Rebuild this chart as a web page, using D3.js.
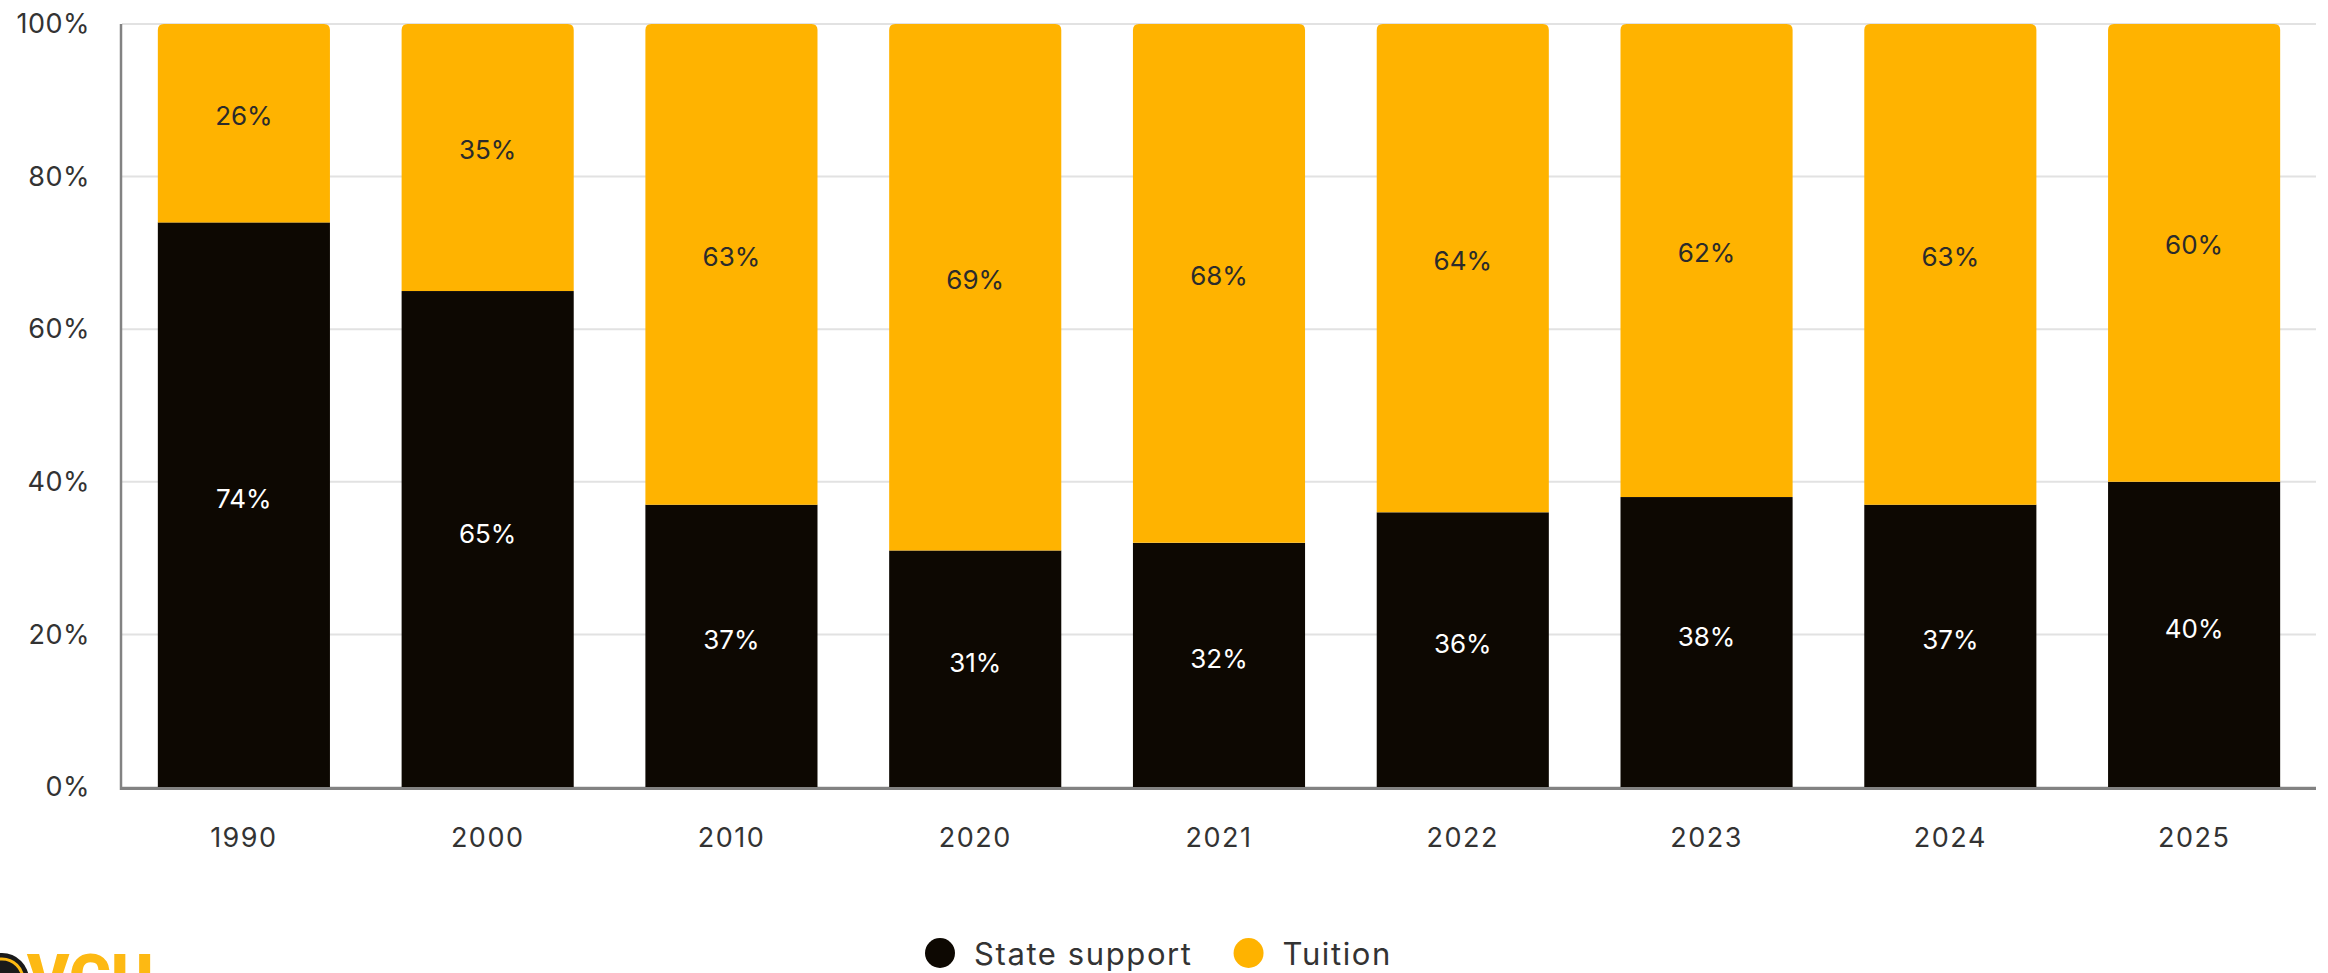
<!DOCTYPE html>
<html>
<head>
<meta charset="utf-8">
<script src="https://cdn.jsdelivr.net/npm/d3@7"></script>
<style>
  body { margin: 0; background: #fff; overflow: hidden; }
  text { font-family: "Inter", "Noto Sans", sans-serif; }
</style>
</head>
<body>
<div id="chart"></div>
<script>
var years = ["1990", "2000", "2010", "2020", "2021", "2022", "2023", "2024", "2025"];
var stateSupport = [74, 65, 37, 31, 32, 36, 38, 37, 40];
var tuition = [26, 35, 63, 69, 68, 64, 62, 63, 60];
var yTicks = [0, 20, 40, 60, 80, 100];
var seriesNames = ["State support", "Tuition"];
var colors = ["#0d0802", "#ffb300"];

var width = 2328, height = 973;
var margin = { top: 24, right: 12, bottom: 186, left: 122 };

var svg = d3.select("#chart")
  .append("svg")
  .attr("width", width)
  .attr("height", height);

var xScale = d3.scaleBand()
  .domain(years)
  .range([margin.left, width - margin.right])
  .paddingInner(0.294)
  .paddingOuter(0.147);

var yScale = d3.scaleLinear()
  .domain([0, 100])
  .range([height - margin.bottom, margin.top]);

// gridlines
svg.append("g")
  .selectAll("line")
  .data(yTicks)
  .enter()
  .append("line")
  .attr("x1", margin.left)
  .attr("x2", width - margin.right)
  .attr("y1", function(d) { return yScale(d); })
  .attr("y2", function(d) { return yScale(d); })
  .attr("stroke", "#e2e2e2")
  .attr("stroke-width", 2);

// y axis labels
var yAxis = d3.axisLeft(yScale)
  .tickValues(yTicks)
  .tickFormat(function(d) { return d + "%"; })
  .tickSize(0)
  .tickPadding(32);

var yG = svg.append("g")
  .attr("transform", "translate(" + margin.left + ",0)")
  .call(yAxis);
yG.select(".domain").remove();
yG.selectAll("text")
  .style("font-size", "27px")
  .style("letter-spacing", "0.5px")
  .attr("fill", "#333");

// state support bars
svg.append("g")
  .selectAll("rect")
  .data(years)
  .enter()
  .append("rect")
  .attr("x", function(d) { return xScale(d); })
  .attr("width", xScale.bandwidth())
  .attr("y", function(d, i) { return yScale(stateSupport[i]); })
  .attr("height", function(d, i) { return yScale(0) - yScale(stateSupport[i]); })
  .attr("fill", colors[0]);

// tuition bars, rounded top corners
function topRounded(x, y, w, h, r) {
  return "M" + x + "," + (y + h) +
    "V" + (y + r) +
    "Q" + x + "," + y + " " + (x + r) + "," + y +
    "H" + (x + w - r) +
    "Q" + (x + w) + "," + y + " " + (x + w) + "," + (y + r) +
    "V" + (y + h) + "Z";
}

svg.append("g")
  .selectAll("path")
  .data(years)
  .enter()
  .append("path")
  .attr("d", function(d, i) {
    var top = yScale(stateSupport[i] + tuition[i]);
    var bottom = yScale(stateSupport[i]);
    return topRounded(xScale(d), top, xScale.bandwidth(), bottom - top, 6);
  })
  .attr("fill", colors[1]);

// value labels
var bw = xScale.bandwidth();
svg.append("g")
  .selectAll("text")
  .data(years)
  .enter()
  .append("text")
  .attr("x", function(d) { return xScale(d) + bw / 2; })
  .attr("y", function(d, i) { return (yScale(0) + yScale(stateSupport[i])) / 2 - 6; })
  .attr("text-anchor", "middle")
  .attr("dominant-baseline", "central")
  .style("font-size", "26px")
  .attr("fill", "#ffffff")
  .text(function(d, i) { return stateSupport[i] + "%"; });

svg.append("g")
  .selectAll("text")
  .data(years)
  .enter()
  .append("text")
  .attr("x", function(d) { return xScale(d) + bw / 2; })
  .attr("y", function(d, i) {
    return (yScale(stateSupport[i]) + yScale(stateSupport[i] + tuition[i])) / 2 - 8;
  })
  .attr("text-anchor", "middle")
  .attr("dominant-baseline", "central")
  .style("font-size", "26px")
  .attr("fill", "#2b2b2b")
  .text(function(d, i) { return tuition[i] + "%"; });

// x axis
var xAxis = d3.axisBottom(xScale).tickSize(0).tickPadding(41);
var xG = svg.append("g")
  .attr("transform", "translate(0," + (height - margin.bottom) + ")")
  .call(xAxis);
xG.select(".domain").remove();
xG.selectAll("text")
  .style("font-size", "27px")
  .style("letter-spacing", "1.5px")
  .attr("fill", "#333");

// axis lines
svg.append("line")
  .attr("x1", margin.left - 1)
  .attr("x2", width - margin.right)
  .attr("y1", yScale(0) + 1.5)
  .attr("y2", yScale(0) + 1.5)
  .attr("stroke", "#828282")
  .attr("stroke-width", 3);

svg.append("line")
  .attr("x1", margin.left - 1)
  .attr("x2", margin.left - 1)
  .attr("y1", yScale(100))
  .attr("y2", yScale(0) + 3)
  .attr("stroke", "#828282")
  .attr("stroke-width", 2.5);

// legend
var legend = svg.append("g").attr("transform", "translate(0,953)");
var lx = 925;
seriesNames.forEach(function(name, i) {
  legend.append("circle")
    .attr("cx", lx + 15)
    .attr("cy", 0)
    .attr("r", 15)
    .attr("fill", colors[i]);
  var t = legend.append("text")
    .attr("x", lx + 49)
    .attr("y", 0)
    .attr("dominant-baseline", "central")
    .style("font-size", "31px")
    .style("letter-spacing", "1.6px")
    .attr("fill", "#333")
    .text(name);
  lx = lx + 49 + t.node().getComputedTextLength() + 41;
});

// logo (cut off at bottom, as in the original)
var logo = svg.append("g");
logo.append("circle")
  .attr("cx", 2)
  .attr("cy", 980)
  .attr("r", 27)
  .attr("fill", "#1a1a1a");
logo.append("circle")
  .attr("cx", 2)
  .attr("cy", 980)
  .attr("r", 21)
  .attr("fill", "none")
  .attr("stroke", "#fdb913")
  .attr("stroke-width", 3);
logo.append("text")
  .attr("x", 27)
  .attr("y", 1000)
  .style("font-family", "Roboto, sans-serif")
  .style("font-weight", 900)
  .style("font-size", "64px")
  .attr("fill", "#fdb913")
  .text("VCU");
</script>
</body>
</html>
